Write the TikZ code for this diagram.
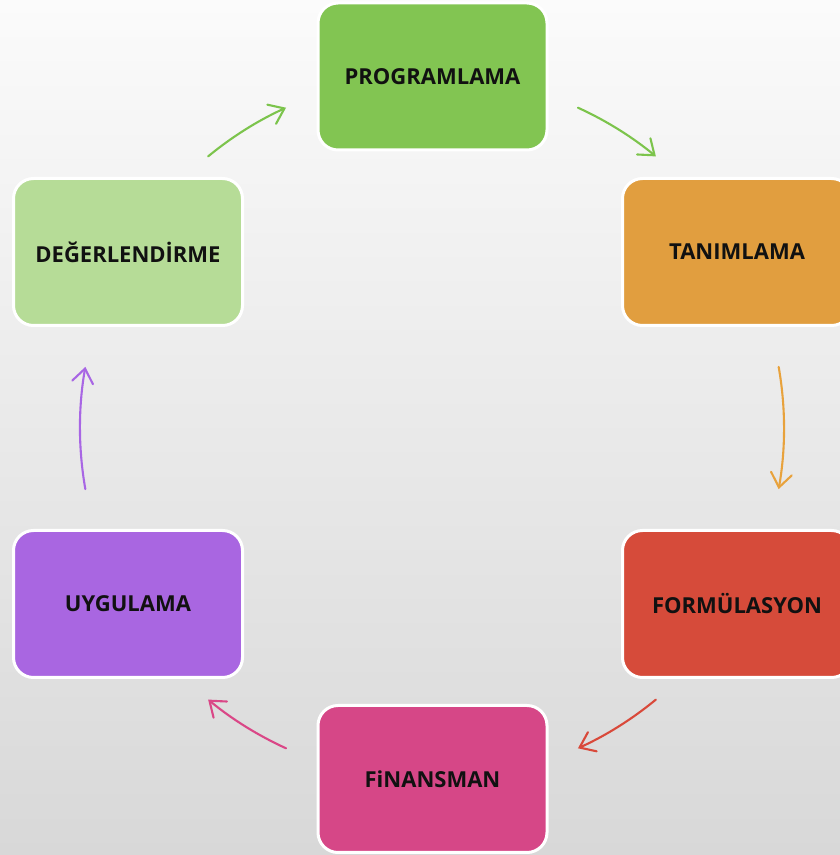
\documentclass[tikz,border=0pt]{standalone}
\usepackage{fontspec}
\setmainfont{Open Sans}
\usetikzlibrary{arrows.meta,calc}
\definecolor{cProg}{HTML}{82C552}
\definecolor{cTan}{HTML}{E19E3F}
\definecolor{cForm}{HTML}{D64B3A}
\definecolor{cFin}{HTML}{D64787}
\definecolor{cUyg}{HTML}{A966E1}
\definecolor{cDeg}{HTML}{B6DC97}
\definecolor{cTxt}{HTML}{111111}
\definecolor{aGreen}{HTML}{7CC44C}
\definecolor{aOrange}{HTML}{E8A23C}
\definecolor{aRed}{HTML}{D9493A}
\definecolor{aPink}{HTML}{DA4787}
\definecolor{aPurple}{HTML}{A866E4}
\definecolor{bgTop}{HTML}{FBFBFB}
\definecolor{bgBot}{HTML}{D8D8D8}
\tikzset{
  stagebox/.style={draw=white, line width=3pt, rounded corners=20pt,
    minimum width=229pt, minimum height=147pt, inner sep=0pt,
    font=\fontsize{22}{26}\selectfont\bfseries, text=cTxt},
  cyclearrow/.style={line width=2.1pt, line cap=round,
    -{Straight Barb[length=14pt,width=21pt,line cap=round]}}
}
\begin{document}
\begin{tikzpicture}[x=1pt,y=1pt]
\shade[top color=bgTop, bottom color=bgBot] (0,0) rectangle (840,855);
\useasboundingbox (0,0) rectangle (840,855);
\node[stagebox, fill=cProg] (prog) at (432.5,778.5) {PROGRAMLAMA};
\node[stagebox, fill=cTan] (tan) at (737,603) {TANIMLAMA};
\node[stagebox, fill=cForm] (form) at (737,251) {FORMÜLASYON};
\node[stagebox, fill=cFin] (fin) at (432.5,76) {FiNANSMAN};
\node[stagebox, fill=cUyg] (uyg) at (128,251) {UYGULAMA};
\node[stagebox, fill=cDeg] (deg) at (128,603) {DEĞERLENDİRME};
\coordinate (ctr) at (432,427);
\coordinate (s1) at ($(ctr)+(129.5:352)$);
\coordinate (s2) at ($(ctr)+(65.5:352)$);
\coordinate (s3) at ($(ctr)+(10:352)$);
\coordinate (s4) at ($(ctr)+(-50.5:352)$);
\coordinate (s5) at ($(ctr)+(-114.5:352)$);
\coordinate (s6) at ($(ctr)+(190:352)$);
\draw[cyclearrow, aGreen] (s1) arc[start angle=129.5, end angle=114.5, radius=352];
\draw[cyclearrow, aGreen] (s2) arc[start angle=65.5, end angle=50.5, radius=352];
\draw[cyclearrow, aOrange] (s3) arc[start angle=10, end angle=-10, radius=352];
\draw[cyclearrow, aRed] (s4) arc[start angle=-50.5, end angle=-65.5, radius=352];
\draw[cyclearrow, aPink] (s5) arc[start angle=-114.5, end angle=-129.5, radius=352];
\draw[cyclearrow, aPurple] (s6) arc[start angle=190, end angle=170, radius=352];
\end{tikzpicture}
\end{document}
